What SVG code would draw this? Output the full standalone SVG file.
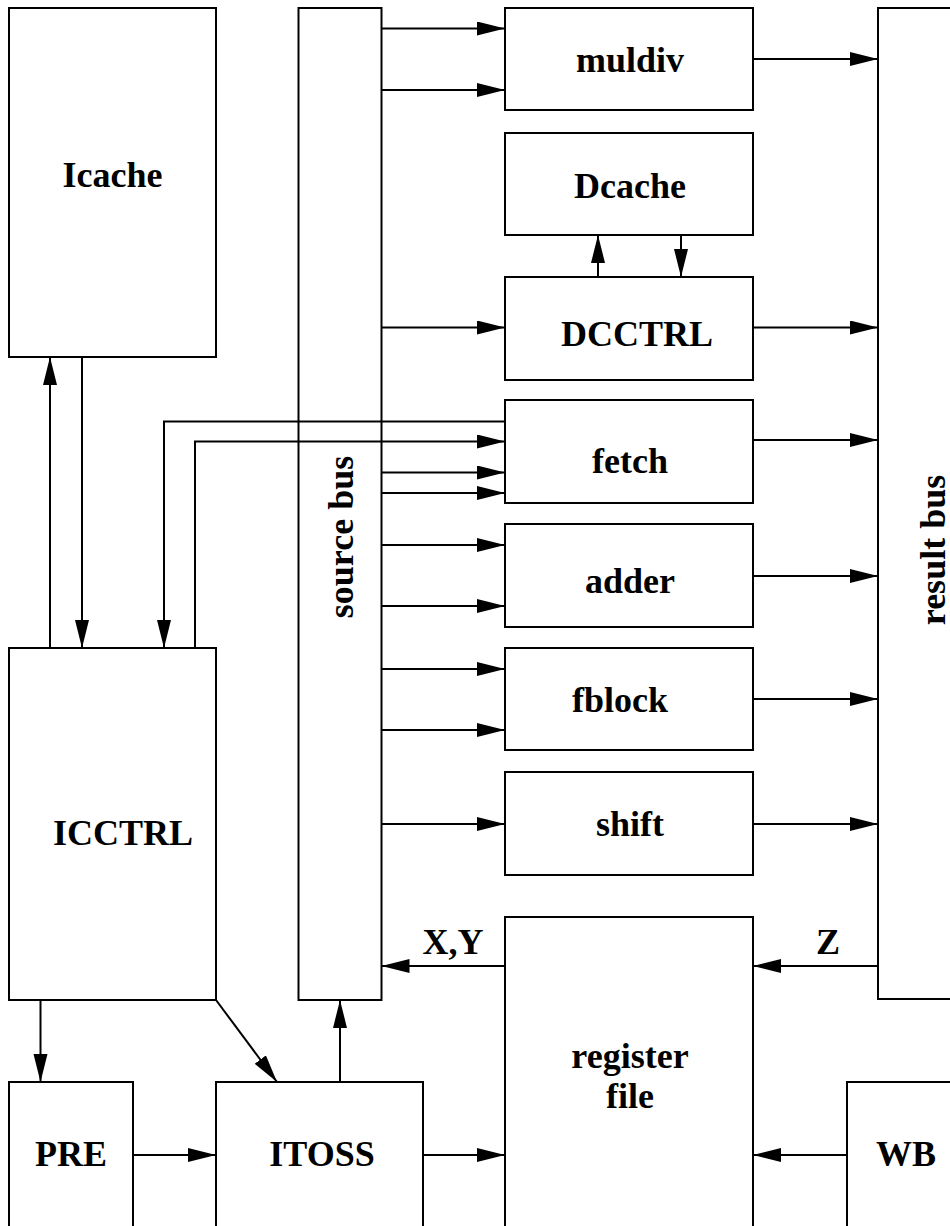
<svg xmlns="http://www.w3.org/2000/svg" width="950" height="1226" viewBox="0 0 950 1226">
<defs>
<marker id="ah" markerUnits="userSpaceOnUse" markerWidth="30" markerHeight="16" refX="28" refY="7" orient="auto">
<path d="M0,0 L28,7 L0,14 z" fill="#000"/>
</marker>
<style>
.box{fill:#fff;stroke:#000;stroke-width:2}
.lbl{font-family:"Liberation Serif","Times New Roman",serif;font-weight:bold;font-size:36px;fill:#000;text-anchor:middle}
.c{fill:none;stroke:#000;stroke-width:2}
.a{fill:none;stroke:#000;stroke-width:2;marker-end:url(#ah)}
</style>
</defs>
<rect width="950" height="1226" fill="#fff"/>
<g id="icache"><rect class="box" x="9" y="8" width="207" height="349"/><text class="lbl" x="112.5" y="187">Icache</text></g>
<g id="icctrl"><rect class="box" x="9" y="648" width="207" height="352"/><text class="lbl" x="123" y="845">ICCTRL</text></g>
<g id="sourcebus"><rect class="box" x="298.5" y="8" width="83" height="992"/><text class="lbl" transform="translate(353,537) rotate(-90)">source bus</text></g>
<g id="resultbus"><rect class="box" x="878" y="8" width="90" height="991"/><text class="lbl" transform="translate(945,550) rotate(-90)">result bus</text></g>
<g id="muldiv"><rect class="box" x="505" y="8" width="248" height="102"/><text class="lbl" x="630" y="72">muldiv</text></g>
<g id="dcache"><rect class="box" x="505" y="133" width="248" height="102"/><text class="lbl" x="630" y="198">Dcache</text></g>
<g id="dcctrl"><rect class="box" x="505" y="277" width="248" height="103"/><text class="lbl" x="637" y="346">DCCTRL</text></g>
<g id="fetch"><rect class="box" x="505" y="400" width="248" height="103"/><text class="lbl" x="630" y="473">fetch</text></g>
<g id="adder"><rect class="box" x="505" y="524" width="248" height="103"/><text class="lbl" x="630" y="593">adder</text></g>
<g id="fblock"><rect class="box" x="505" y="648" width="248" height="102"/><text class="lbl" x="620" y="712">fblock</text></g>
<g id="shift"><rect class="box" x="505" y="772" width="248" height="103"/><text class="lbl" x="630" y="836">shift</text></g>
<g id="regfile"><rect class="box" x="505" y="917" width="248" height="330"/><text class="lbl" x="630" y="1068">register</text><text class="lbl" x="630" y="1108">file</text></g>
<g id="pre"><rect class="box" x="9" y="1082" width="124" height="165"/><text class="lbl" x="71" y="1166">PRE</text></g>
<g id="itoss"><rect class="box" x="216" y="1082" width="207" height="165"/><text class="lbl" x="322" y="1166">ITOSS</text></g>
<g id="wb"><rect class="box" x="847" y="1082" width="120" height="165"/><text class="lbl" x="906" y="1166">WB</text></g>
<g id="connectors">
<line class="a" x1="381.5" y1="28.5" x2="505" y2="28.5"/>
<line class="a" x1="381.5" y1="90" x2="505" y2="90"/>
<line class="a" x1="381.5" y1="327.5" x2="505" y2="327.5"/>
<line class="a" x1="381.5" y1="472.5" x2="505" y2="472.5"/>
<line class="a" x1="381.5" y1="493" x2="505" y2="493"/>
<line class="a" x1="381.5" y1="545" x2="505" y2="545"/>
<line class="a" x1="381.5" y1="606" x2="505" y2="606"/>
<line class="a" x1="381.5" y1="669" x2="505" y2="669"/>
<line class="a" x1="381.5" y1="730" x2="505" y2="730"/>
<line class="a" x1="381.5" y1="824" x2="505" y2="824"/>
<line class="a" x1="753" y1="59" x2="878" y2="59"/>
<line class="a" x1="753" y1="327.5" x2="878" y2="327.5"/>
<line class="a" x1="753" y1="440" x2="878" y2="440"/>
<line class="a" x1="753" y1="576" x2="878" y2="576"/>
<line class="a" x1="753" y1="699" x2="878" y2="699"/>
<line class="a" x1="753" y1="824" x2="878" y2="824"/>
<line class="a" x1="598" y1="277" x2="598" y2="235"/>
<line class="a" x1="681" y1="235" x2="681" y2="277"/>
<line class="a" x1="50" y1="648" x2="50" y2="357"/>
<line class="a" x1="82" y1="357" x2="82" y2="648"/>
<polyline class="a" points="505,421.5 164,421.5 164,648"/>
<polyline class="a" points="195,648 195,441.5 505,441.5"/>
<line class="a" x1="505" y1="966" x2="381.5" y2="966"/>
<line class="a" x1="878" y1="966" x2="753" y2="966"/>
<line class="a" x1="40.5" y1="1000" x2="40.5" y2="1082"/>
<line class="a" x1="216" y1="1000" x2="277" y2="1082"/>
<line class="a" x1="340" y1="1082" x2="340" y2="1000"/>
<line class="a" x1="133" y1="1155" x2="216" y2="1155"/>
<line class="a" x1="423" y1="1155" x2="505" y2="1155"/>
<line class="a" x1="847" y1="1155" x2="753" y2="1155"/>
<text class="lbl" x="453" y="954">X,Y</text>
<text class="lbl" x="828" y="954">Z</text>
</g>
</svg>
